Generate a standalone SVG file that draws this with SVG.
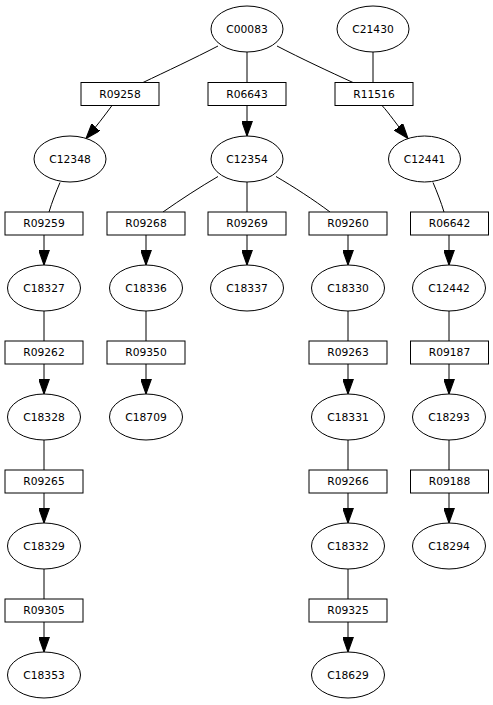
<svg xmlns="http://www.w3.org/2000/svg" width="493" height="705" viewBox="0 0 493 705">
<style>
.n ellipse,.n rect{fill:#fff;stroke:#000;stroke-width:1}
.n text{font-family:"DejaVu Sans",sans-serif;font-size:10.7px;text-anchor:middle;fill:#000}
.e path{fill:none;stroke:#000;stroke-width:1}
.a{marker-end:url(#ah)}
</style>
<defs>
<marker id="ah" markerUnits="userSpaceOnUse" markerWidth="15" markerHeight="11" refX="14" refY="5" orient="auto" viewBox="0 0 14 10">
<path d="M0,0 L14,5 L0,10 z" fill="#000" stroke="#000" stroke-width="1"/>
</marker>
</defs>
<rect width="493" height="705" fill="#fff"/>
<g class="e">
<path d="M218,46 C195,58 165,72 143,82.5"/>
<path d="M247,52 V82.5"/>
<path d="M277,46 C300,58 330,72 353,82.5"/>
<path d="M373,52 V82.5"/>
<path class="a" d="M112,105.5 C105,115 96,127 86,138.5"/>
<path class="a" d="M247,105.5 V136"/>
<path class="a" d="M382,105.5 C389,113 397,125 408,138.5"/>
<path d="M60,182.5 C56,192 52,202 49,212"/>
<path d="M218,176.5 C200,187 180,200 163,212"/>
<path d="M247,182 V212"/>
<path d="M276,176.5 C294,187 314,200 330,212"/>
<path d="M433,182.5 C437,192 441,202 444,212"/>
<path class="a" d="M44,235 V265"/>
<path class="a" d="M146,235 V265"/>
<path class="a" d="M247,235 V265"/>
<path class="a" d="M348,235 V265"/>
<path class="a" d="M449,235 V265"/>
<path d="M44,311 V341"/>
<path d="M146,311 V341"/>
<path d="M348,311 V341"/>
<path d="M449,311 V341"/>
<path class="a" d="M44,364 V394"/>
<path class="a" d="M146,364 V394"/>
<path class="a" d="M348,364 V394"/>
<path class="a" d="M449,364 V394"/>
<path d="M44,440 V470"/>
<path d="M348,440 V470"/>
<path d="M449,440 V470"/>
<path class="a" d="M44,493 V523"/>
<path class="a" d="M348,493 V523"/>
<path class="a" d="M449,493 V523"/>
<path d="M44,569 V599"/>
<path d="M348,569 V599"/>
<path class="a" d="M44,622 V652"/>
<path class="a" d="M348,622 V652"/>
</g>
<g id="C00083" class="n"><ellipse cx="247" cy="29" rx="36" ry="23"/><text x="247" y="33">C00083</text></g>
<g id="C21430" class="n"><ellipse cx="373" cy="29" rx="36" ry="23"/><text x="373" y="33">C21430</text></g>
<g id="R09258" class="n"><rect x="81" y="82.5" width="78" height="23"/><text x="120" y="97.5">R09258</text></g>
<g id="R06643" class="n"><rect x="208" y="82.5" width="78" height="23"/><text x="247" y="97.5">R06643</text></g>
<g id="R11516" class="n"><rect x="335" y="82.5" width="78" height="23"/><text x="374" y="97.5">R11516</text></g>
<g id="C12348" class="n"><ellipse cx="70" cy="159" rx="36" ry="23"/><text x="70" y="163">C12348</text></g>
<g id="C12354" class="n"><ellipse cx="247" cy="159" rx="36" ry="23"/><text x="247" y="163">C12354</text></g>
<g id="C12441" class="n"><ellipse cx="424.5" cy="159" rx="36" ry="23"/><text x="424.5" y="163">C12441</text></g>
<g id="R09259" class="n"><rect x="5" y="212" width="78" height="23"/><text x="44" y="227">R09259</text></g>
<g id="R09268" class="n"><rect x="107" y="212" width="78" height="23"/><text x="146" y="227">R09268</text></g>
<g id="R09269" class="n"><rect x="208" y="212" width="78" height="23"/><text x="247" y="227">R09269</text></g>
<g id="R09260" class="n"><rect x="309" y="212" width="78" height="23"/><text x="348" y="227">R09260</text></g>
<g id="R06642" class="n"><rect x="410.5" y="212" width="78" height="23"/><text x="449.5" y="227">R06642</text></g>
<g id="C18327" class="n"><ellipse cx="44" cy="288" rx="36.5" ry="23"/><text x="44" y="292">C18327</text></g>
<g id="C18336" class="n"><ellipse cx="146" cy="288" rx="36.5" ry="23"/><text x="146" y="292">C18336</text></g>
<g id="C18337" class="n"><ellipse cx="247" cy="288" rx="36.5" ry="23"/><text x="247" y="292">C18337</text></g>
<g id="C18330" class="n"><ellipse cx="348" cy="288" rx="36.5" ry="23"/><text x="348" y="292">C18330</text></g>
<g id="C12442" class="n"><ellipse cx="449" cy="288" rx="36.5" ry="23"/><text x="449" y="292">C12442</text></g>
<g id="R09262" class="n"><rect x="5" y="341" width="78" height="23"/><text x="44" y="356">R09262</text></g>
<g id="R09350" class="n"><rect x="107" y="341" width="78" height="23"/><text x="146" y="356">R09350</text></g>
<g id="R09263" class="n"><rect x="309" y="341" width="78" height="23"/><text x="348" y="356">R09263</text></g>
<g id="R09187" class="n"><rect x="410.5" y="341" width="78" height="23"/><text x="449.5" y="356">R09187</text></g>
<g id="C18328" class="n"><ellipse cx="44" cy="417" rx="36.5" ry="23"/><text x="44" y="421">C18328</text></g>
<g id="C18709" class="n"><ellipse cx="146" cy="417" rx="36.5" ry="23"/><text x="146" y="421">C18709</text></g>
<g id="C18331" class="n"><ellipse cx="348" cy="417" rx="36.5" ry="23"/><text x="348" y="421">C18331</text></g>
<g id="C18293" class="n"><ellipse cx="449" cy="417" rx="36.5" ry="23"/><text x="449" y="421">C18293</text></g>
<g id="R09265" class="n"><rect x="5" y="470" width="78" height="23"/><text x="44" y="485">R09265</text></g>
<g id="R09266" class="n"><rect x="309" y="470" width="78" height="23"/><text x="348" y="485">R09266</text></g>
<g id="R09188" class="n"><rect x="410.5" y="470" width="78" height="23"/><text x="449.5" y="485">R09188</text></g>
<g id="C18329" class="n"><ellipse cx="44" cy="546" rx="36.5" ry="23"/><text x="44" y="550">C18329</text></g>
<g id="C18332" class="n"><ellipse cx="348" cy="546" rx="36.5" ry="23"/><text x="348" y="550">C18332</text></g>
<g id="C18294" class="n"><ellipse cx="449" cy="546" rx="36.5" ry="23"/><text x="449" y="550">C18294</text></g>
<g id="R09305" class="n"><rect x="5" y="599" width="78" height="23"/><text x="44" y="614">R09305</text></g>
<g id="R09325" class="n"><rect x="309" y="599" width="78" height="23"/><text x="348" y="614">R09325</text></g>
<g id="C18353" class="n"><ellipse cx="44" cy="675" rx="36.5" ry="23"/><text x="44" y="679">C18353</text></g>
<g id="C18629" class="n"><ellipse cx="348" cy="675" rx="36.5" ry="23"/><text x="348" y="679">C18629</text></g>
</svg>
